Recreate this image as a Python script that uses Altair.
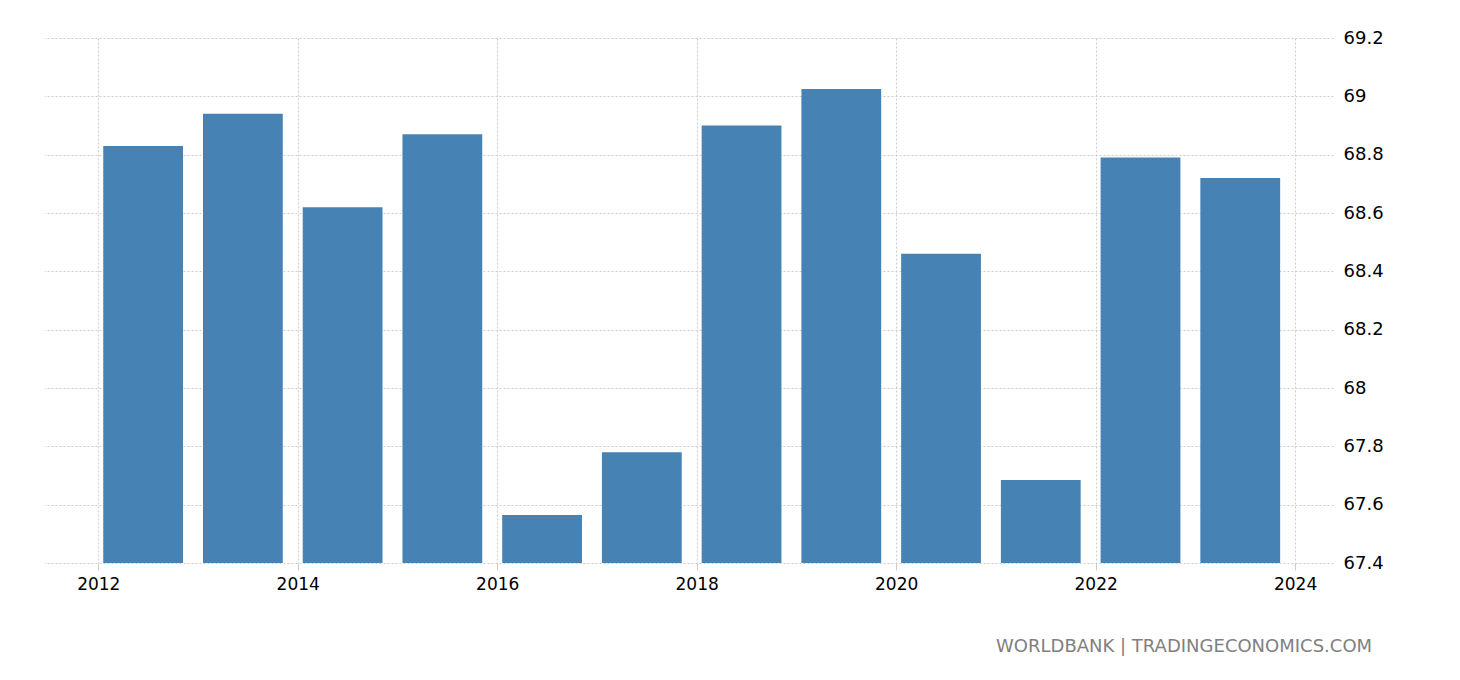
import altair as alt
import pandas as pd

years = [2012, 2013, 2014, 2015, 2016, 2017, 2018, 2019, 2020, 2021, 2022, 2023]
values = [68.83, 68.94, 68.62, 68.87, 67.565, 67.78, 68.90, 69.025, 68.46, 67.685, 68.79, 68.72]
y_ticks = [67.4, 67.6, 67.8, 68.0, 68.2, 68.4, 68.6, 68.8, 69.0, 69.2]
x_ticks = [2012, 2014, 2016, 2018, 2020, 2022, 2024]

df = pd.DataFrame({"year": years, "value": values})

FONT = "DejaVu Sans"
GRID = "#cccccc"

bars = (
    alt.Chart(df)
    .transform_calculate(start="datum.year + 0.05", end="datum.year + 0.85")
    .mark_bar(color="#4682b4")
    .encode(
        x=alt.X(
            "start:Q",
            scale=alt.Scale(domain=[2011.456, 2024.38], nice=False, zero=False),
            axis=alt.Axis(
                values=x_ticks,
                format="d",
                title=None,
                domain=False,
                grid=True,
                gridColor=GRID,
                gridDash=[2, 2],
                tickColor=GRID,
                tickSize=7,
                labelFont=FONT,
                labelFontSize=17,
                labelColor="#000000",
                labelPadding=6,
            ),
        ),
        x2="end:Q",
        y=alt.Y(
            "value:Q",
            scale=alt.Scale(domain=[67.4, 69.2], nice=False, zero=False),
            axis=alt.Axis(
                orient="right",
                values=y_ticks,
                format="~r",
                title=None,
                domain=False,
                ticks=False,
                grid=True,
                gridColor=GRID,
                gridDash=[2, 2],
                labelFont=FONT,
                labelFontSize=18,
                labelColor="#000000",
                labelPadding=10,
                labelAlign="left",
            ),
        ),
        y2=alt.datum(67.4),
    )
)

chart = bars.properties(
    width=1289,
    height=525,
    autosize="none",
    padding={"left": 36, "top": 30, "right": 110, "bottom": 100},
    title=alt.Title(
        "WORLDBANK | TRADINGECONOMICS.COM",
        orient="bottom",
        anchor="end",
        font=FONT,
        fontSize=18,
        fontWeight="normal",
        color="#808080",
        offset=46,
        dx=-11,
    ),
).configure_view(stroke=None)

chart.save("out.html", embed_options={"renderer": "svg", "actions": False})
